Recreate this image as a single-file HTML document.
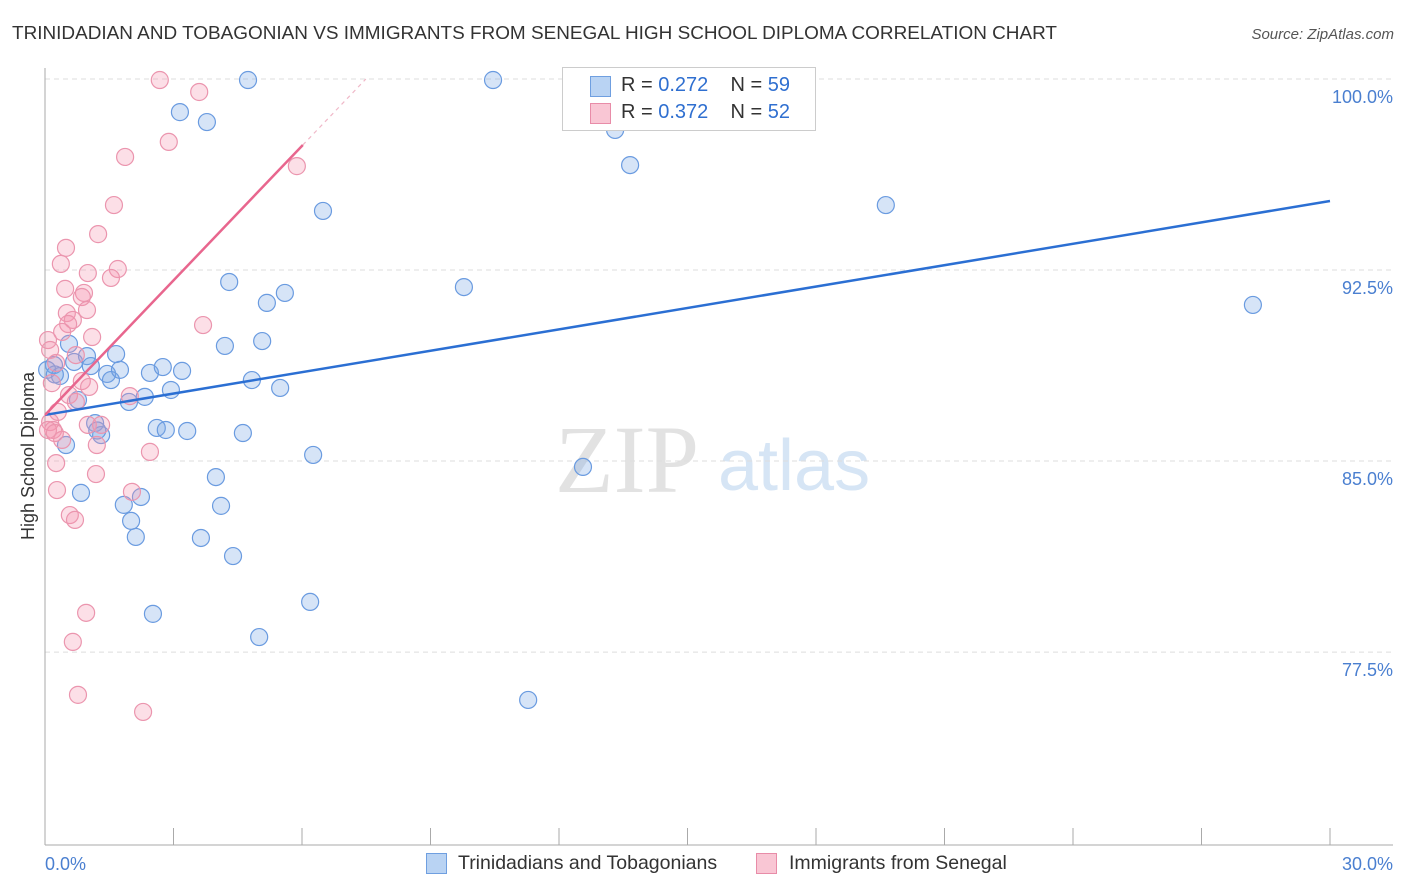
<!DOCTYPE html>
<html><head><meta charset="utf-8"><style>
body{margin:0;background:#fff;font-family:"Liberation Sans",sans-serif;}
#wrap{position:relative;width:1406px;height:892px;overflow:hidden;}
</style></head><body>
<div id="wrap">
<svg id="svg" width="1406" height="892" xmlns="http://www.w3.org/2000/svg">
<text x="12" y="39" font-size="18.5" fill="#333" textLength="1045" lengthAdjust="spacingAndGlyphs">TRINIDADIAN AND TOBAGONIAN VS IMMIGRANTS FROM SENEGAL HIGH SCHOOL DIPLOMA CORRELATION CHART</text>
<text x="1394" y="39" font-size="15" fill="#555" font-style="italic" text-anchor="end">Source: ZipAtlas.com</text>
<text transform="translate(34,456) rotate(-90)" font-size="18" fill="#333" text-anchor="middle">High School Diploma</text>
<text x="555" y="492" font-size="96" fill="#e2e2e2" font-family="Liberation Serif,serif">ZIP</text>
<text x="718" y="490" font-size="72" fill="#d6e5f5">atlas</text>
<g id="grid"></g><g id="axes"></g><g id="marks"></g>
</svg>
<div style="position:absolute;left:562px;top:67px;width:252px;height:62px;border:1px solid #ccc;background:#fff;font-size:20px;">
 <div style="position:absolute;left:27px;top:8px;width:19px;height:19px;background:#b9d3f3;border:1px solid #6f9fe0;"></div>
 <div style="position:absolute;left:58px;top:6px;color:#333;white-space:nowrap;">R = <span style="color:#2f6fd0">0.272</span>&nbsp;&nbsp;&nbsp; N = <span style="color:#2f6fd0">59</span></div>
 <div style="position:absolute;left:27px;top:35px;width:19px;height:19px;background:#f9c6d4;border:1px solid #e88ca8;"></div>
 <div style="position:absolute;left:58px;top:33px;color:#333;white-space:nowrap;">R = <span style="color:#2f6fd0">0.372</span>&nbsp;&nbsp;&nbsp; N = <span style="color:#2f6fd0">52</span></div>
</div>
<div style="position:absolute;left:426px;top:853px;width:19px;height:19px;background:#b9d3f3;border:1px solid #6f9fe0;"></div>
<div style="position:absolute;left:458px;top:852px;font-size:19.5px;color:#333;">Trinidadians and Tobagonians</div>
<div style="position:absolute;left:756px;top:853px;width:19px;height:19px;background:#f9c6d4;border:1px solid #e88ca8;"></div>
<div style="position:absolute;left:789px;top:852px;font-size:19.5px;color:#333;">Immigrants from Senegal</div>
</div>
<script>
const blueX=[4.74,10.46,3.15,3.78,13.31,13.66,6.49,19.63,4.30,5.18,5.60,9.78,28.20,4.20,5.07,0.56,0.98,1.66,0.21,0.05,0.35,0.68,1.07,1.45,1.54,1.75,2.45,2.75,3.20,4.83,5.49,2.94,2.33,1.96,0.77,1.17,1.31,0.49,2.61,2.82,3.32,4.62,6.26,12.56,3.99,0.84,2.24,1.84,4.11,2.01,2.12,3.64,4.39,2.52,6.19,5.00,11.28,0.23,1.22];
const blueY=[99.96,99.96,98.70,98.31,98.00,96.62,94.82,95.05,92.03,91.21,91.60,91.83,91.13,89.52,89.71,89.60,89.12,89.20,88.77,88.58,88.34,88.89,88.73,88.42,88.18,88.58,88.46,88.69,88.54,88.18,87.87,87.79,87.52,87.32,87.40,86.49,86.02,85.63,86.30,86.22,86.18,86.10,85.24,84.77,84.37,83.75,83.59,83.28,83.24,82.65,82.02,81.98,81.27,79.00,79.47,78.09,75.62,88.40,86.20];
const pinkX=[2.68,3.60,2.89,1.87,5.88,1.61,1.24,0.49,0.37,1.70,1.00,1.54,0.47,0.91,0.86,3.69,0.51,0.98,0.65,0.54,1.10,0.07,0.40,0.12,0.72,0.26,0.86,0.16,1.03,0.56,0.72,1.98,0.30,1.00,0.12,1.21,0.19,2.45,0.26,1.19,0.28,2.03,0.58,0.70,0.96,0.65,0.77,2.29,0.07,1.31,0.40,0.23];
const pinkY=[99.96,99.49,97.53,96.94,96.58,95.05,93.91,93.37,92.74,92.54,92.38,92.19,91.76,91.60,91.44,90.34,90.81,90.93,90.54,90.38,89.87,89.75,90.07,89.36,89.16,88.85,88.14,88.06,87.91,87.59,87.32,87.55,86.93,86.42,86.53,85.63,86.22,85.36,84.92,84.49,83.86,83.79,82.88,82.69,79.04,77.90,75.82,75.15,86.22,86.42,85.83,86.10];
const blueTrend=[86.81,95.21]; // y at x=0 and x=30
const pinkTrend=[86.81,97.41]; // y at x=0 and x=6.02
const pinkTrendEnd=6.02;
const yTicks=[100,92.5,85,77.5];
const yTickLabels=["100.0%","92.5%","85.0%","77.5%"];
const xTicks=[0,3,6,9,12,15,18,21,24,27,30];

const sx=v=>45+v/30*1285;
const sy=v=>79+(100-v)*25.47;
const NS="http://www.w3.org/2000/svg";
function mk(parent,tag,attrs){const e=document.createElementNS(NS,tag);for(const k in attrs)e.setAttribute(k,attrs[k]);document.getElementById(parent).appendChild(e);return e;}
yTicks.forEach((t,i)=>{
 const l=mk('grid','line',{x1:45,x2:1393,y1:sy(t),y2:sy(t),stroke:'#ddd','stroke-dasharray':'5,4'});
 
 
 const tx=mk('grid','text',{x:1393,y:sy(t)+24,'text-anchor':'end','font-size':18,fill:'#4a7fd0'});
 tx.textContent=yTickLabels[i];
 
 
});
let a=mk('axes','line',{x1:45,x2:45,y1:68,y2:845,stroke:'#aaa'});


a=mk('axes','line',{x1:45,x2:1393,y1:845,y2:845,stroke:'#aaa'});


xTicks.forEach(t=>{
 const l=mk('axes','line',{x1:sx(t),x2:sx(t),y1:828,y2:845,stroke:'#aaa'});
 
 
});
let t0=mk('axes','text',{x:45,y:870,'font-size':18,fill:'#4a7fd0'});t0.textContent='0.0%';


let t1=mk('axes','text',{x:1393,y:870,'font-size':18,fill:'#4a7fd0','text-anchor':'end'});t1.textContent='30.0%';


blueX.forEach((x,i)=>{
 const c=mk('marks','circle',{cx:sx(x),cy:sy(blueY[i]),r:8.5,fill:'rgba(120,165,230,0.3)',stroke:'#6a9be0','stroke-width':1.2});
 
 
});
pinkX.forEach((x,i)=>{
 const c=mk('marks','circle',{cx:sx(x),cy:sy(pinkY[i]),r:8.5,fill:'rgba(245,150,175,0.3)',stroke:'#eb95ae','stroke-width':1.2});
 
 
});
let tl=mk('marks','line',{x1:sx(0),y1:sy(blueTrend[0]),x2:sx(30),y2:sy(blueTrend[1]),stroke:'#2b6fd3','stroke-width':2.5});


const ps=(pinkTrend[1]-pinkTrend[0])/pinkTrendEnd;
tl=mk('marks','line',{x1:sx(0),y1:sy(pinkTrend[0]),x2:sx(pinkTrendEnd),y2:sy(pinkTrend[1]),stroke:'#e8668e','stroke-width':2.5});


const xEnd=(100-pinkTrend[0])/ps;
tl=mk('marks','line',{x1:sx(pinkTrendEnd),y1:sy(pinkTrend[1]),x2:sx(xEnd),y2:sy(100),stroke:'#f0b8c8','stroke-width':1.2,'stroke-dasharray':'4,4'});


</script>
</body></html>
